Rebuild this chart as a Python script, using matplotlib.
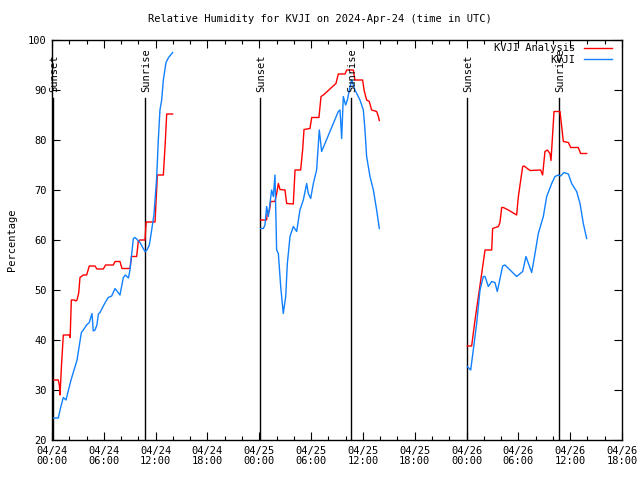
import matplotlib
matplotlib.use('Agg')
from matplotlib import pyplot as plt

plt.rcParams['font.family'] = ['DejaVu Sans Mono']

# hours since 04/24 00:00 UTC
anl_day1_t = [0.15, 0.73, 0.85, 0.93, 1.1, 1.31, 2.0, 2.1, 2.24, 2.6, 2.75, 2.9, 3.1, 3.24, 3.63, 4.01, 4.32,
              4.98, 5.2, 5.94, 6.2, 7.1, 7.3, 7.87, 8.1, 9.03, 9.2, 9.8, 10.0, 10.19, 10.77, 10.9, 11.23, 11.93,
              12.2, 12.89, 13.1, 13.28, 13.97]
anl_day1_v = [32, 32, 31, 29, 35, 41, 41, 40.5, 48, 48, 47.8, 48, 49.5, 52.5, 53, 53, 54.8,
              54.8, 54.2, 54.2, 55, 55, 55.7, 55.7, 54.3, 54.3, 56.7, 56.7, 59.8, 60, 60, 63.6, 63.6, 63.6,
              73, 73, 79, 85.2, 85.2]

obs_day1_t = [0.15, 0.73, 1.0, 1.31, 1.62, 2.2, 2.9, 3.4, 3.63, 4.0, 4.32, 4.63, 4.78, 4.98, 5.2, 5.37, 5.56,
              5.94, 6.33, 6.52, 6.91, 7.3, 7.87, 8.26, 8.5, 8.85, 9.03, 9.42, 9.6, 9.8, 10.19, 10.5, 10.77,
              11.0, 11.27, 11.54, 11.8, 11.93, 12.12, 12.31, 12.5, 12.7, 12.89, 13.2, 13.5, 13.97]
obs_day1_v = [24.4, 24.4, 26.5, 28.5, 28, 32, 36, 41.5, 42, 43, 43.5, 45.3, 41.8, 42, 43, 45.2, 45.5,
              46.8, 48, 48.5, 48.8, 50.3, 49, 52.5, 53, 52.4, 54, 60.3, 60.5, 60.2, 59.5, 58.5, 57.7,
              58, 59, 62, 65, 68, 72.5, 80, 86, 88, 92, 95.5, 96.5, 97.5]

anl_day2_t = [24.16, 24.85, 24.93, 25.16, 25.32, 25.82, 26.01, 26.21, 26.4, 26.98, 27.17, 27.94, 28.14, 28.79,
              29.02, 29.18, 29.87, 30.07, 30.91, 31.15, 31.42, 32.88, 33.15, 33.93, 34.12, 34.89, 35.08, 35.97,
              36.13, 36.43, 36.74, 37.01, 37.59, 37.79, 37.9]
anl_day2_v = [64, 64, 65.7, 65.7, 67.7, 67.7, 69.3, 71.3, 70.1, 70, 67.3, 67.2, 74, 74,
              78, 82.1, 82.3, 84.5, 84.5, 88.7, 89, 91.3, 93.2, 93.2, 94, 94, 92, 92,
              90, 88, 87.7, 86, 85.7, 84.7, 83.9]

obs_day2_t = [24.16, 24.47, 24.66, 24.85, 25.05, 25.24, 25.43, 25.63, 25.82, 26.01, 26.21, 26.48, 26.78, 27.06,
              27.25, 27.56, 27.94, 28.33, 28.71, 29.1, 29.49, 29.68, 29.95, 30.26, 30.64, 30.95, 31.22, 33.15,
              33.35, 33.54, 33.73, 34.0, 34.2, 34.43, 34.7, 35.08, 35.66, 36.05, 36.24, 36.43, 36.82, 37.21,
              37.59, 37.9]
obs_day2_v = [62.3, 62.3, 63, 66.7, 64.7, 67.3, 70, 68.7, 73, 58, 57.3, 50.7, 45.3, 48.7,
              55.3, 60.7, 62.7, 61.7, 66, 68, 71.3, 69.3, 68.3, 71.3, 74, 82, 77.7, 85.7,
              86, 80.3, 88.7, 87, 88, 90, 92, 90, 88, 86, 82, 76.7, 72.7, 70,
              66, 62.3]

anl_day3_t = [48.09, 48.59, 48.98, 49.48, 49.87, 50.14, 50.91, 51.02, 51.68, 51.87, 52.07, 52.26, 52.84, 53.8,
              54.0, 54.5, 54.65, 55.35, 56.58, 56.81, 57.08, 57.35, 57.66, 57.78, 58.13, 58.82, 59.21, 59.79,
              60.06, 60.94, 61.21, 61.91]
anl_day3_v = [38.8, 38.8, 44, 50, 54.7, 58, 58, 62.3, 62.7, 63.5, 66.5, 66.5, 66, 65,
              68.7, 74.7, 74.8, 73.9, 74, 73, 77.7, 78, 77.3, 75.9, 85.7, 85.7, 79.7, 79.5,
              78.5, 78.5, 77.3, 77.3]

obs_day3_t = [48.09, 48.48, 48.78, 49.17, 49.56, 49.94, 50.14, 50.52, 50.91, 51.29, 51.56, 52.18, 52.45, 53.8,
              54.5, 54.88, 55.54, 55.93, 56.31, 56.89, 57.28, 57.86, 58.24, 58.63, 58.9, 59.28, 59.79, 60.17,
              60.75, 61.14, 61.52, 61.91]
obs_day3_v = [34.7, 34, 38, 43.3, 50, 52.7, 52.7, 50.7, 51.7, 51.5, 49.7, 54.8, 55, 52.7,
              53.7, 56.7, 53.5, 57.3, 61.3, 64.7, 68.7, 71.3, 72.7, 73, 72.8, 73.5, 73.2, 71.3,
              69.7, 67.3, 63.3, 60.3]

sun_times = [0.12, 10.78, 24.12, 34.65, 48.09, 58.65]
sun_labels = ['Sunset', 'Sunrise', 'Sunset', 'Sunrise', 'Sunset', 'Sunrise']

tick_hours = list(range(0, 67, 6))
tick_labels = ['04/24\n00:00', '04/24\n06:00', '04/24\n12:00', '04/24\n18:00',
               '04/25\n00:00', '04/25\n06:00', '04/25\n12:00', '04/25\n18:00',
               '04/26\n00:00', '04/26\n06:00', '04/26\n12:00', '04/26\n18:00']

red = '#ff0000'
blue = '#1080ff'

fig = plt.figure(figsize=(6.4, 4.8), dpi=100)
ax = fig.add_axes([52 / 640, 40 / 480, 570 / 640, 400 / 480])

for t in sun_times:
    ax.plot([t, t], [20, 88.3], color='black', lw=1.0)
for t, lab in zip(sun_times, sun_labels):
    ax.text(t + 0.15, 89.6, lab, rotation=90, ha='center', va='bottom', fontsize=7.5)

ax.plot(anl_day1_t, anl_day1_v, color=red, lw=1.0, label='KVJI Analysis')
ax.plot(anl_day2_t, anl_day2_v, color=red, lw=1.0)
ax.plot(anl_day3_t, anl_day3_v, color=red, lw=1.0)
ax.plot(obs_day1_t, obs_day1_v, color=blue, lw=1.0, label='KVJI')
ax.plot(obs_day2_t, obs_day2_v, color=blue, lw=1.0)
ax.plot(obs_day3_t, obs_day3_v, color=blue, lw=1.0)

ax.set_xlim(0, 66)
ax.set_ylim(20, 100)
ax.set_xticks(tick_hours)
ax.set_xticklabels(tick_labels, fontsize=7.5, linespacing=1.1)
ax.set_xticks(range(0, 67, 2), minor=True)
ax.set_yticks(range(20, 101, 10))
ax.tick_params(axis='y', labelsize=7.5)
ax.tick_params(which='major', direction='in', length=6, width=0.8, top=True, right=True, pad=4)
ax.tick_params(which='minor', direction='in', length=3, width=0.8, top=True, right=False)
for s in ax.spines.values():
    s.set_linewidth(1.0)

# legend sits just under the top frame, lines on the right
ax.legend(loc='upper right', bbox_to_anchor=(0.982, 0.992), frameon=False, markerfirst=False,
          fontsize=7.5, handlelength=2.7, handletextpad=0.8, borderaxespad=0, borderpad=0,
          labelspacing=0.15)

fig.text(0.5, 1 - 19 / 480, 'Relative Humidity for KVJI on 2024-Apr-24 (time in UTC)',
         ha='center', va='center', fontsize=7.5)
fig.text(12 / 640, 0.5, 'Percentage', rotation=90, ha='center', va='center', fontsize=7.5)

fig.savefig('out.png', dpi=100)
